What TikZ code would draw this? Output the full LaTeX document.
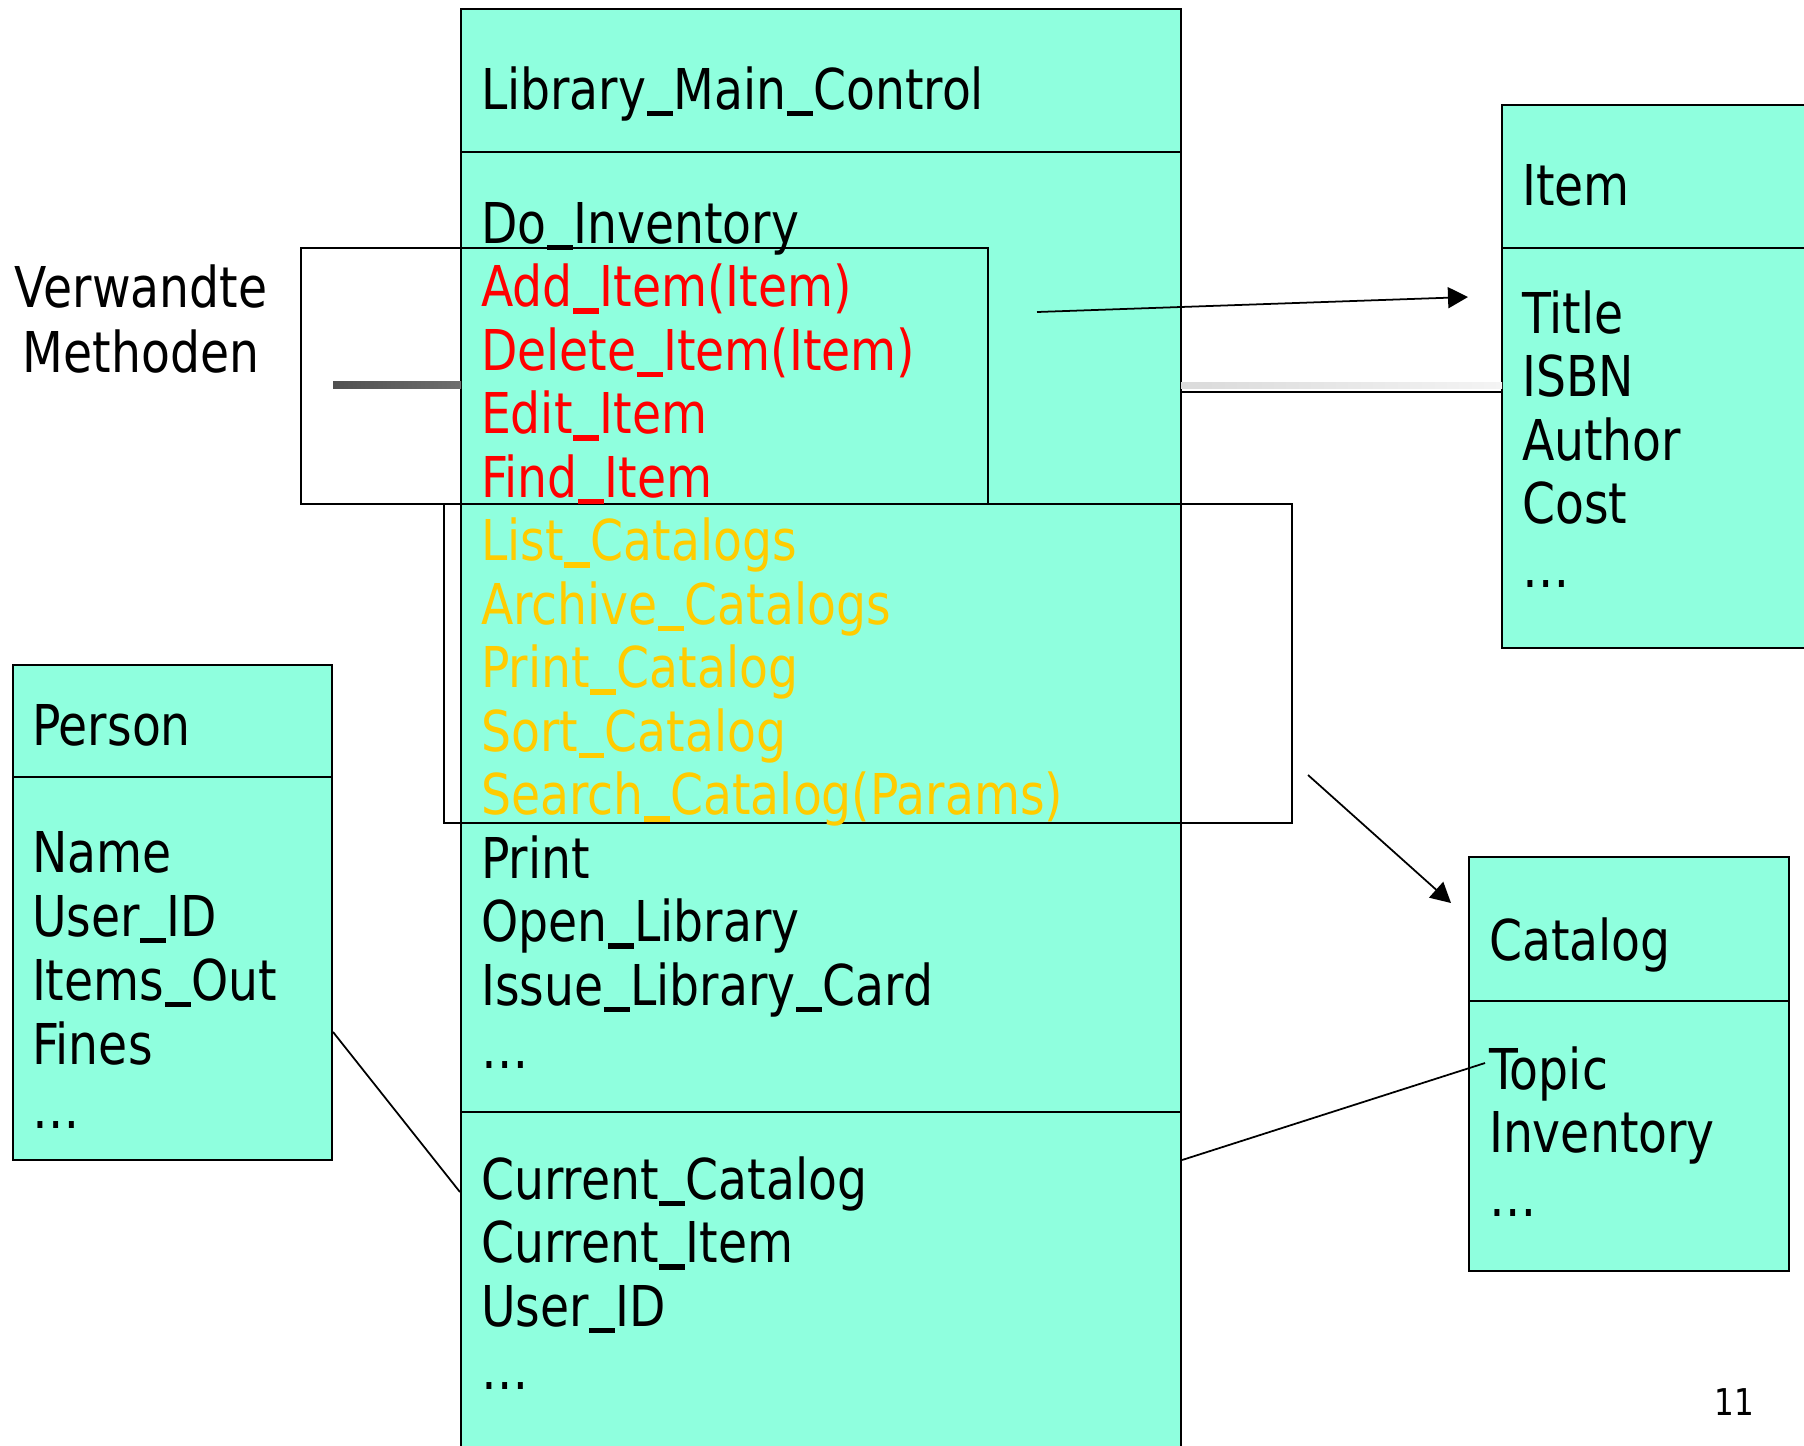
\documentclass[tikz,border=0pt]{standalone}
\usepackage{fontspec}
\setmainfont[FakeStretch=0.84]{DejaVu Sans}
\usetikzlibrary{arrows.meta,fit}

\definecolor{classfill}{RGB}{143,255,222}
\definecolor{methodred}{RGB}{255,0,0}
\definecolor{methodorange}{RGB}{255,204,0}
\definecolor{bardark}{RGB}{80,80,80}
\definecolor{barmid}{RGB}{110,110,110}
\definecolor{bandleft}{RGB}{218,218,218}
\definecolor{bandright}{RGB}{244,244,244}

% underscore sitting just under the baseline
\newcommand{\usc}{\kern0.01em\rule[-0.13em]{0.46em}{0.1em}\kern0.01em}

\begin{document}
\begin{tikzpicture}[x=0.01cm, y=-0.01cm, line width=0.6pt,
    classbox/.style={draw, fill=classfill, inner sep=0pt},
    groupbox/.style={draw, inner sep=0pt},
    member/.style={anchor=base west, inner sep=0pt, font=\fontsize{16}{19}\selectfont},
    link/.style={line width=0.5pt, -{Triangle[length=2mm, width=2.1mm]}}]

  \useasboundingbox (0,0) rectangle (1804,1445);
  \clip (0,0) rectangle (1804,1445);

  % classes
  \node[classbox, fit={(461,9) (1181,1470)}] (main) {};
  \node[classbox, fit={(1502,105) (1830,648)}] (item) {};
  \node[classbox, fit={(13,665) (332,1160)}] (person) {};
  \node[classbox, fit={(1469,857) (1789,1271)}] (catalog) {};

  % compartment lines
  \draw (461,152) -- (1181,152);
  \draw (461,1112) -- (1181,1112);
  \draw (1502,248) -- (1830,248);
  \draw (13,777) -- (332,777);
  \draw (1469,1001) -- (1789,1001);

  % related method groups
  \node[groupbox, fit={(301,248) (988,504)}] (itemgroup) {};
  \node[groupbox, fit={(444,504) (1292,823)}] (cataloggroup) {};

  % bars beside the main class
  \shade[left color=bardark, right color=barmid] (333,381.5) rectangle (461,388.5);
  \shade[left color=bandleft, right color=bandright] (1181,382) rectangle (1502,388);
  \draw[line width=0.5pt] (1181,392) -- (1502,392);

  \node[member, anchor=base] (related) at (141,307) {Verwandte};
  \node[member, anchor=base] (methods) at (141,372) {Methoden};

  % Library_Main_Control
  \node[member] (mainname) at (480,109) {Library\usc Main\usc Control};
  \node[member] (m1) at (480,243) {Do\usc Inventory};
  \node[member, text=methodred] (m2) at (480,306.5) {Add\usc Item(Item)};
  \node[member, text=methodred] (m3) at (480,370) {Delete\usc Item(Item)};
  \node[member, text=methodred] (m4) at (480,433.5) {Edit\usc Item};
  \node[member, text=methodred] (m5) at (480,497) {Find\usc Item};
  \node[member, text=methodorange] (m6) at (480,560.5) {List\usc Catalogs};
  \node[member, text=methodorange] (m7) at (480,624) {Archive\usc Catalogs};
  \node[member, text=methodorange] (m8) at (480,687.5) {Print\usc Catalog};
  \node[member, text=methodorange] (m9) at (480,751) {Sort\usc Catalog};
  \node[member, text=methodorange] (m10) at (480,814.5) {Search\usc Catalog(Params)};
  \node[member] (m11) at (480,878) {Print};
  \node[member] (m12) at (480,941.5) {Open\usc Library};
  \node[member] (m13) at (480,1005) {Issue\usc Library\usc Card};
  \node[member] (m14) at (480,1068.5) {…};
  \node[member] (a1) at (480,1199) {Current\usc Catalog};
  \node[member] (a2) at (480,1262.5) {Current\usc Item};
  \node[member] (a3) at (480,1326) {User\usc ID};
  \node[member] (a4) at (480,1389.5) {…};

  % Item
  \node[member] (itemname) at (1521,205) {Item};
  \node[member] (i1) at (1521,333) {Title};
  \node[member] (i2) at (1521,396.5) {ISBN};
  \node[member] (i3) at (1521,460) {Author};
  \node[member] (i4) at (1521,523.5) {Cost};
  \node[member] (i5) at (1521,587) {…};

  % Person
  \node[member] (personname) at (31,745) {Person};
  \node[member] (p1) at (31,872) {Name};
  \node[member] (p2) at (31,936) {User\usc ID};
  \node[member] (p3) at (31,1000) {Items\usc Out};
  \node[member] (p4) at (31,1064) {Fines};
  \node[member] (p5) at (31,1128) {…};

  % Catalog
  \node[member] (catalogname) at (1488,960) {Catalog};
  \node[member] (c1) at (1488,1089) {Topic};
  \node[member] (c2) at (1488,1152.5) {Inventory};
  \node[member] (c3) at (1488,1216) {…};

  % links
  \coordinate (itemfrom) at (1037,312);
  \coordinate (itemto) at (1468,297);
  \coordinate (catalogfrom) at (1308,775);
  \coordinate (catalogto) at (1451,903);
  \coordinate (topicend) at (1485,1063);
  \draw[link] (itemfrom) -- (itemto);
  \draw[link] (catalogfrom) -- (catalogto);
  \draw[line width=0.5pt] (person.east |- 0,1032) -- (main.west |- 0,1192);
  \draw[line width=0.5pt] (main.east |- 0,1160) -- (topicend);

  \node[anchor=base, inner sep=0pt, font=\fontsize{10.5}{12}\selectfont] (pageno) at (1734,1415) {11};
\end{tikzpicture}
\end{document}
